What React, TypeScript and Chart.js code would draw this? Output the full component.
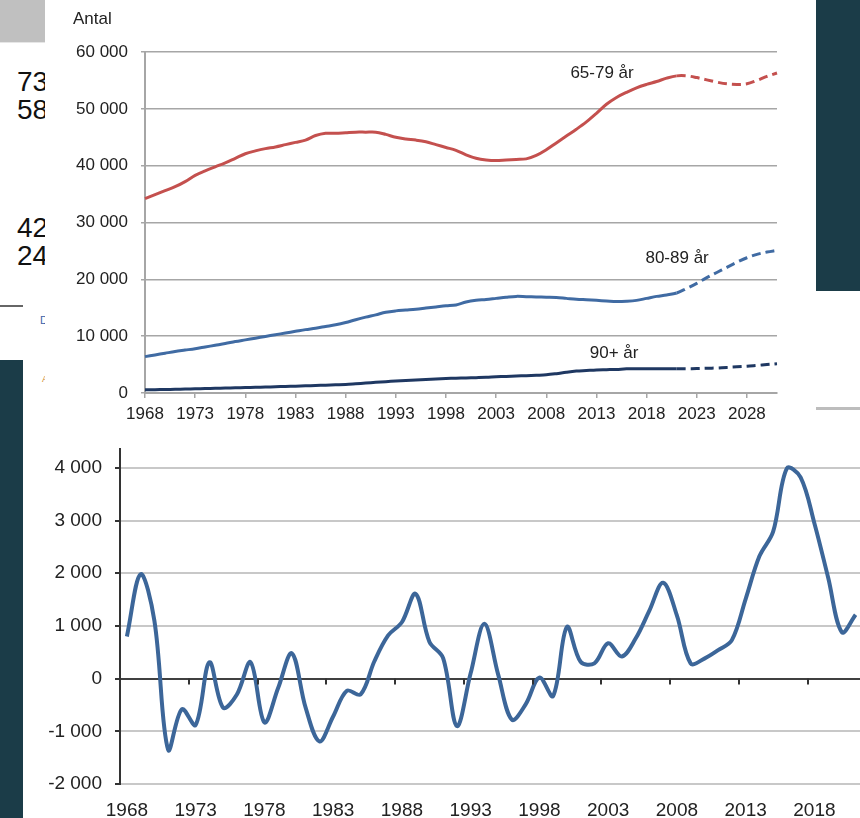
import React, { useEffect, useRef } from "react";
import { Chart, registerables } from "chart.js";
Chart.register(...registerables);

const FONT = "'Liberation Sans', Arial, sans-serif";

// ---------- Top chart data (Antal per åldersgrupp) ----------
const topYears: string[] = [];
for (let y = 1968; y <= 2031; y++) topYears.push(String(y));
const projectionFrom = "2021";

const age6579 = [
  34200, 34900, 35600, 36300, 37200, 38300, 39100, 39800, 40500, 41300,
  42100, 42600, 43000, 43300, 43700, 44100, 44500, 45300, 45700, 45700,
  45800, 45900, 45900, 45900, 45500, 45000, 44700, 44500, 44200, 43700,
  43200, 42700, 41900, 41300, 41000, 40900, 41000, 41100, 41200, 41800,
  42800, 44000, 45200, 46400, 47700, 49200, 50800, 52000, 52900, 53700,
  54300, 54800, 55400, 55800, 55800, 55500, 55100, 54700, 54400, 54300,
  54400, 55000, 55700, 56300,
];
const age8089 = [
  6400, 6700, 7000, 7300, 7550, 7800, 8100, 8400, 8700, 9050,
  9350, 9650, 9950, 10250, 10550, 10850, 11150, 11400, 11700, 12000,
  12400, 12900, 13350, 13750, 14200, 14450, 14600, 14750, 14950, 15150,
  15350, 15500, 16000, 16300, 16450, 16650, 16850, 17000, 16950, 16900,
  16850, 16800, 16650, 16500, 16400, 16300, 16200, 16100, 16150, 16300,
  16650, 17000, 17250, 17600, 18400, 19300, 20300, 21200, 22100, 23000,
  23800, 24400, 24800, 25100,
];
const age90 = [
  550, 580, 610, 650, 690, 730, 780, 820, 870, 910,
  960, 1000, 1050, 1100, 1150, 1200, 1260, 1320, 1380, 1440,
  1500, 1620, 1750, 1880, 2000, 2100, 2200, 2300, 2380, 2460,
  2540, 2610, 2660, 2700, 2750, 2850, 2920, 2990, 3050, 3120,
  3200, 3400, 3650, 3850, 3950, 4050, 4100, 4150, 4250, 4250,
  4250, 4250, 4250, 4280, 4280, 4300, 4350, 4400, 4500, 4600,
  4700, 4850, 5000, 5150,
];
const seriesNames = ["65-79 år", "80-89 år", "90+ år"];
const seriesColors = ["#c4504e", "#406ba3", "#1f3862"];
const labelAnchorYears = [2013.56, 2021.04, 2014.76];
const labelAnchorValues = [55430, 22875, 6210];
const topYTicks = [0, 10000, 20000, 30000, 40000, 50000, 60000];
const topYTitle = "Antal";

// ---------- Bottom chart data (årlig förändring) ----------
const bottomYears: string[] = [];
for (let y = 1968; y <= 2021; y++) bottomYears.push(String(y));
const netChange = [
  800, 1980, 1100, -1350, -580, -880, 310, -550, -300, 310,
  -830, -180, 480, -550, -1190, -720, -230, -300, 330, 820,
  1070, 1610, 700, 390, -900, 100, 1040, 80, -780, -490,
  20, -330, 980, 320, 290, 670, 420, 760, 1290, 1820,
  1200, 290, 380, 540, 730, 1510, 2320, 2790, 3990, 3820,
  2950, 1920, 880, 1210,
];
const bottomYTicks = [-2000, -1000, 0, 1000, 2000, 3000, 4000];

const fmt = (v: number) => {
  const s = Math.abs(v).toString().replace(/\B(?=(\d{3})+(?!\d))/g, " ");
  return (v < 0 ? "-" : "") + s;
};

function TopChart() {
  const ref = useRef<HTMLCanvasElement>(null);
  useEffect(() => {
    const split = topYears.indexOf(projectionFrom);
    const mk = (i: number, data: number[]) => ({
      label: seriesNames[i],
      data,
      borderColor: seriesColors[i],
      borderWidth: 3,
      pointRadius: 0,
      tension: 0.35,
      fill: false,
      segment: {
        borderDash: (c: any) => (c.p0DataIndex >= split ? [9, 5] : undefined),
      },
    });
    const labelsPlugin = {
      id: "seriesLabels",
      afterDatasetsDraw(chart: any) {
        const { ctx, scales } = chart;
        const xs = scales.x;
        const ys = scales.y;
        ctx.save();
        ctx.fillStyle = "#222";
        ctx.font = `17px ${FONT}`;
        ctx.textAlign = "center";
        ctx.textBaseline = "alphabetic";
        seriesNames.forEach((n, i) => {
          const x = xs.getPixelForValue(labelAnchorYears[i] - 1968);
          const y = ys.getPixelForValue(labelAnchorValues[i]);
          ctx.fillText(n, x, y);
        });
        ctx.textAlign = "left";
        ctx.fillText(topYTitle, 28, 24);
        ctx.restore();
      },
    };
    const chart = new Chart(ref.current!, {
      type: "line",
      data: {
        labels: topYears,
        datasets: [mk(0, age6579), mk(1, age8089), mk(2, age90)],
      },
      options: {
        animation: false,
        responsive: false,
        devicePixelRatio: 1,
        layout: { padding: { left: 0, top: 52, right: 39, bottom: 0 } },
        plugins: { legend: { display: false }, tooltip: { enabled: false } },
        scales: {
          x: {
            type: "category",
            offset: false,
            grid: { drawOnChartArea: false, drawTicks: true, tickLength: 5, color: "#a6a6a6", lineWidth: 1.5 },
            border: { display: true, color: "#a6a6a6", width: 2 },
            ticks: { autoSkip: false, maxRotation: 0, padding: 6, color: "#222", font: { size: 17, family: FONT } },
            afterBuildTicks: (s: any) => {
              s.ticks = s.ticks.filter((t: any) => t.value % 5 === 0);
            },
            afterFit: (s: any) => {
              s.height = 32;
            },
          },
          y: {
            min: 0,
            max: 60000,
            afterBuildTicks: (s: any) => {
              s.ticks = topYTicks.map((v) => ({ value: v }));
            },
            grid: { color: "#a6a6a6", lineWidth: 1.5, tickLength: 4 },
            border: { display: true, color: "#a6a6a6", width: 2 },
            ticks: { padding: 13, color: "#222", font: { size: 17, family: FONT }, callback: (v: any) => fmt(Number(v)) },
            afterFit: (s: any) => {
              s.width = 100;
            },
          },
        },
      } as any,
      plugins: [labelsPlugin],
    });
    return () => chart.destroy();
  }, []);
  return <canvas ref={ref} width={771} height={425} style={{ display: "block" }} />;
}

function BottomChart() {
  const ref = useRef<HTMLCanvasElement>(null);
  useEffect(() => {
    const zeroTicks = {
      id: "zeroTicks",
      afterDatasetsDraw(chart: any) {
        const { ctx, scales } = chart;
        const xs = scales.x;
        const ys = scales.y;
        const n = bottomYears.length;
        const half = (xs.right - xs.left) / n / 2;
        const y0 = ys.getPixelForValue(0);
        ctx.save();
        ctx.strokeStyle = "#333";
        ctx.lineWidth = 2;
        for (let i = 5; i < n; i += 5) {
          const x = Math.round(xs.getPixelForValue(i) - half);
          ctx.beginPath();
          ctx.moveTo(x, y0);
          ctx.lineTo(x, y0 + 6);
          ctx.stroke();
        }
        ctx.restore();
      },
    };
    const chart = new Chart(ref.current!, {
      type: "line",
      data: {
        labels: bottomYears,
        datasets: [
          {
            label: "Förändring",
            data: netChange,
            borderColor: "#3c6699",
            borderWidth: 4,
            pointRadius: 0,
            tension: 0.35,
            fill: false,
          },
        ],
      },
      options: {
        animation: false,
        responsive: false,
        devicePixelRatio: 1,
        layout: { padding: { left: 0, top: 20, right: 20.5, bottom: 0 } },
        plugins: { legend: { display: false }, tooltip: { enabled: false } },
        scales: {
          x: {
            type: "category",
            offset: true,
            grid: { display: false },
            border: { display: false },
            ticks: { autoSkip: false, maxRotation: 0, padding: 7, color: "#222", font: { size: 19, family: FONT } },
            afterBuildTicks: (s: any) => {
              s.ticks = s.ticks.filter((t: any) => t.value % 5 === 0);
            },
            afterFit: (s: any) => {
              s.height = 41;
            },
          },
          y: {
            min: -2000,
            max: 4350,
            afterBuildTicks: (s: any) => {
              s.ticks = bottomYTicks.map((v) => ({ value: v }));
            },
            grid: {
              color: (c: any) => (c.tick && c.tick.value === 0 ? "#404040" : "#c8c8c8"),
              lineWidth: 2,
              tickLength: 5,
              tickColor: "#333",
            },
            border: { display: true, color: "#333", width: 2 },
            ticks: { padding: 13, color: "#222", font: { size: 19, family: FONT }, callback: (v: any) => fmt(Number(v)) },
            afterFit: (s: any) => {
              s.width = 97;
            },
          },
        },
      } as any,
      plugins: [zeroTicks],
    });
    return () => chart.destroy();
  }, []);
  return <canvas ref={ref} width={860} height={400} style={{ display: "block" }} />;
}

export default function App() {
  const abs = (s: React.CSSProperties): React.CSSProperties => ({ position: "absolute", ...s });
  return (
    <div
      style={{
        position: "fixed",
        left: 0,
        top: 0,
        width: 860,
        height: 818,
        overflow: "hidden",
        background: "#fff",
        fontFamily: FONT,
      }}
    >
      <div style={abs({ left: 0, top: 0, width: 45, height: 42, background: "#c0c0c0" })} />
      <div style={abs({ left: 0, top: 42, width: 45, height: 1, background: "#e6e6e6" })} />
      <div style={abs({ left: 17, top: 68, fontSize: 28, lineHeight: "28px", color: "#111" })}>
        73
        <br />
        58
      </div>
      <div style={abs({ left: 17, top: 214, fontSize: 28, lineHeight: "28px", color: "#111" })}>
        42
        <br />
        24
      </div>
      <div style={abs({ left: 0, top: 305, width: 23, height: 1.5, background: "#666" })} />
      <div style={abs({ left: 40, top: 315, fontSize: 11, lineHeight: "11px", color: "#3a62a8" })}>D</div>
      <div style={abs({ left: 42, top: 375, fontSize: 9, lineHeight: "9px", color: "#d08a30" })}>A</div>
      <div style={abs({ left: 0, top: 360, width: 23, height: 458, background: "#1b3c48" })} />
      <div style={abs({ left: 816, top: 0, width: 44, height: 291, background: "#1b3c48" })} />
      <div style={abs({ left: 816, top: 407, width: 44, height: 3, background: "#bdbdbd" })} />
      <div style={abs({ left: 45, top: 0, width: 771, height: 425, background: "#fff", overflow: "hidden" })}>
        <TopChart />
      </div>
      <div style={abs({ left: 23, top: 425, width: 860, height: 400, background: "#fff", overflow: "hidden" })}>
        <BottomChart />
      </div>
    </div>
  );
}
